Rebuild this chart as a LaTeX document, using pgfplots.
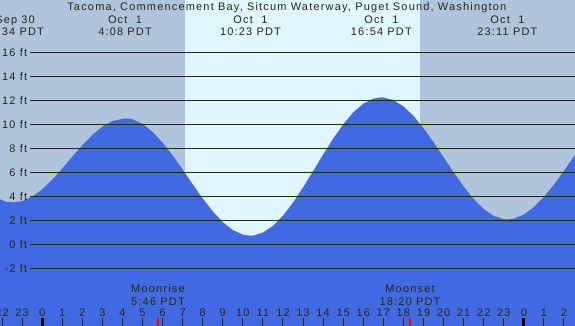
\documentclass[border=0pt]{standalone}
\usepackage{pgfplots}
\pgfplotsset{compat=1.18}
\usepackage{fontspec}
\setmainfont{Liberation Sans}[LetterSpace=11]
\definecolor{night}{RGB}{176,196,222}
\definecolor{day}{RGB}{223,246,255}
\definecolor{tide}{RGB}{65,105,225}
\definecolor{ink}{RGB}{40,40,12}
\begin{document}
\begin{tikzpicture}[font=\fontsize{11}{12}\selectfont]
\path[use as bounding box] (0,0) rectangle (575bp,326bp);
\clip (0,0) rectangle (575bp,326bp);
\begin{axis}[at={(0,0)}, anchor=south west, width=575bp, height=326bp, scale only axis,
  xmin=-2.1, xmax=26.55, ymin=-6.8, ymax=20.36, axis lines=none, ticks=none, clip=false]
% night background
\addplot[draw=none, fill=night] coordinates {(-2.1,-6.8) (-2.1,20.36) (26.55,20.36) (26.55,-6.8)};
% daylight
\addplot[draw=none, fill=day] coordinates {(7.12,-6.8) (7.12,20.36) (18.83,20.36) (18.83,-6.8)};
% tide level (ft) vs hours since midnight Oct 1
\addplot[draw=none, fill=tide] coordinates {
(-2.1,-6.8) (-2.1,3.75) (-1.8,3.55) (-1.43,3.5) (-1.0,3.60) (-0.5,3.97) (0,4.58) (0.5,5.38)
(1,6.31) (1.5,7.30) (2,8.25) (2.5,9.12) (3,9.81) (3.5,10.28) (4.13,10.5) (4.5,10.42)
(5,10.04) (5.5,9.38) (6,8.49) (6.5,7.42) (7,6.24) (7.5,5.01) (8,3.82) (8.5,2.75)
(9,1.85) (9.5,1.19) (10,0.81) (10.38,0.72) (10.5,0.73) (11,0.98) (11.5,1.54) (12,2.39)
(12.5,3.48) (13,4.74) (13.5,6.10) (14,7.48) (14.5,8.81) (15,10.00) (15.5,10.99) (16,11.72)
(16.5,12.14) (16.9,12.25) (17,12.24) (17.5,12.02) (18,11.50) (18.5,10.71) (19,9.69)
(19.5,8.52) (20,7.27) (20.5,6.01) (21,4.82) (21.5,3.77) (22,2.94) (22.5,2.37) (23,2.10)
(23.18,2.08) (23.5,2.14) (24,2.48) (24.5,3.10) (25,3.95) (25.5,4.98) (26,6.13) (26.55,7.44)
(26.55,-6.8)};
% level lines and labels
\pgfplotsinvokeforeach{-2,0,...,16}{
  \draw[ink, line width=1bp] (axis cs:-0.63,#1) -- (axis cs:26.55,#1);
  \node[anchor=east, text=ink, inner sep=0pt] at (axis cs:-0.74,#1) {#1 ft};
}
% hour ticks
\pgfplotsinvokeforeach{-2,-1,...,26}{
  \draw[ink, line width=1bp] (axis cs:#1,-6.14) -- (axis cs:#1,-6.8);
  \node[anchor=base, text=ink, inner sep=0pt] at (axis cs:#1,-5.98) {\pgfmathparse{int(mod(#1+24,24))}\pgfmathresult};
}
\draw[black, line width=3bp] (axis cs:0,-6.14) -- (axis cs:0,-6.8);
\draw[black, line width=3bp] (axis cs:24,-6.14) -- (axis cs:24,-6.8);
\draw[red, line width=1.2bp] (axis cs:5.77,-6.14) -- (axis cs:5.77,-6.8);
\draw[red, line width=1.2bp] (axis cs:18.33,-6.14) -- (axis cs:18.33,-6.8);
% moon labels
\node[anchor=base, text=ink, inner sep=0pt] at (axis cs:5.77,-3.975) {Moonrise};
\node[anchor=base, text=ink, inner sep=0pt] at (axis cs:5.77,-5.06) {5:46 PDT};
\node[anchor=base, text=ink, inner sep=0pt] at (axis cs:18.33,-3.975) {Moonset};
\node[anchor=base, text=ink, inner sep=0pt] at (axis cs:18.33,-5.06) {18:20 PDT};
% title and extremes
\node[anchor=base, text=ink, inner sep=0pt] at (axis cs:12.19,19.525) {Tacoma, Commencement Bay, Sitcum Waterway, Puget Sound, Washington};
\node[anchor=base, text=ink, inner sep=0pt] at (axis cs:-1.35,18.38) {Sep 30};
\node[anchor=base, text=ink, inner sep=0pt] at (axis cs:-1.43,17.42) {22:34 PDT};
\node[anchor=base, text=ink, inner sep=0pt] at (axis cs:4.13,18.38) {Oct~~1};
\node[anchor=base, text=ink, inner sep=0pt] at (axis cs:4.13,17.42) {4:08 PDT};
\node[anchor=base, text=ink, inner sep=0pt] at (axis cs:10.38,18.38) {Oct~~1};
\node[anchor=base, text=ink, inner sep=0pt] at (axis cs:10.38,17.42) {10:23 PDT};
\node[anchor=base, text=ink, inner sep=0pt] at (axis cs:16.9,18.38) {Oct~~1};
\node[anchor=base, text=ink, inner sep=0pt] at (axis cs:16.9,17.42) {16:54 PDT};
\node[anchor=base, text=ink, inner sep=0pt] at (axis cs:23.18,18.38) {Oct~~1};
\node[anchor=base, text=ink, inner sep=0pt] at (axis cs:23.18,17.42) {23:11 PDT};
\end{axis}
\end{tikzpicture}
\end{document}
